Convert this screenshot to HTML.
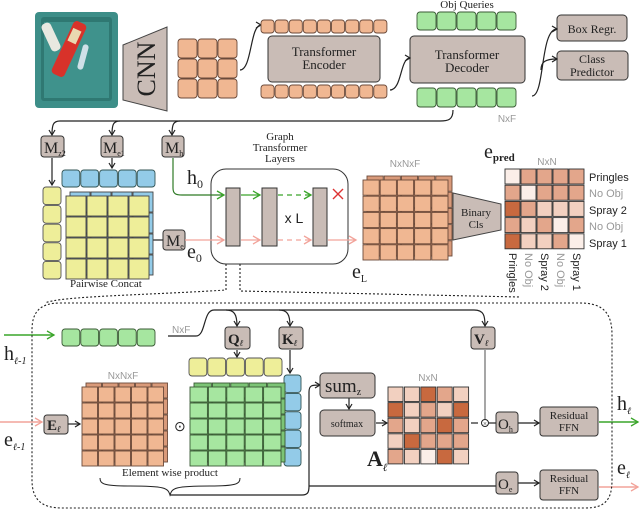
<!DOCTYPE html>
<html><head><meta charset="utf-8"><style>
html,body{margin:0;padding:0;background:#fff;}
svg{display:block;}
text{font-family:"Liberation Serif",serif;fill:#222;}
.s{font-family:"Liberation Sans",sans-serif;}
</style></head><body>
<svg id="g" width="640" height="531" viewBox="0 0 640 531" xmlns="http://www.w3.org/2000/svg">
<defs>
<marker id="ab" markerWidth="8" markerHeight="8" refX="6" refY="4" orient="auto" markerUnits="userSpaceOnUse"><path d="M1,1 L6,4 L1,7" fill="none" stroke="#222" stroke-width="1.2"/></marker>
<marker id="ag" markerWidth="10" markerHeight="10" refX="8" refY="5" orient="auto" markerUnits="userSpaceOnUse"><path d="M1,1 L8,5 L1,9" fill="none" stroke="#3aa52a" stroke-width="1.3"/></marker>
<marker id="ap" markerWidth="10" markerHeight="10" refX="8" refY="5" orient="auto" markerUnits="userSpaceOnUse"><path d="M1,1 L8,5 L1,9" fill="none" stroke="#f2a39a" stroke-width="1.3"/></marker>
</defs>
<!-- tray -->
<rect x="35" y="12" width="83" height="96" rx="4" fill="#3d8e88"/>
<rect x="41" y="17" width="71" height="84" rx="3" fill="#2f7872"/>
<rect x="44" y="22" width="65" height="76" fill="#3f928c"/>
<rect x="46" y="22" width="10" height="30" rx="4" fill="#e8e8e0" transform="rotate(-25 51 37)"/>
<rect x="62" y="20" width="14" height="58" rx="4" fill="#d8322a" transform="rotate(25 69 49)"/>
<rect x="64" y="28" width="9" height="14" fill="#e9d9b0" transform="rotate(25 69 49)"/>
<rect x="80" y="44" width="6" height="26" rx="3" fill="#cfe0e8" transform="rotate(15 83 57)"/>
<!-- CNN -->
<polygon points="123,45 167,27 167,111 123,100" fill="#c9bcb6" stroke="#444" stroke-width="1"/>
<text x="0" y="0" font-size="26" transform="translate(155,69) rotate(-90)" text-anchor="middle">CNN</text>
<!-- encoder / decoder -->
<rect x="268" y="36" width="112" height="46" rx="4" fill="#c9bcb6" stroke="#333"/>
<text x="324" y="56" font-size="13" text-anchor="middle">Transformer</text>
<text x="324" y="69" font-size="13" text-anchor="middle">Encoder</text>
<rect x="410" y="36" width="115" height="47" rx="4" fill="#c9bcb6" stroke="#333"/>
<text x="467" y="59" font-size="13" text-anchor="middle">Transformer</text>
<text x="467" y="72" font-size="13" text-anchor="middle">Decoder</text>
<text x="467" y="8" font-size="11" text-anchor="middle">Obj Queries</text>
<text x="507" y="122" font-size="10" class="s" fill="#999" text-anchor="middle" style="fill:#999">NxF</text>
<rect x="557" y="15" width="70" height="26" rx="4" fill="#c9bcb6" stroke="#333"/>
<text x="592" y="33" font-size="12" text-anchor="middle">Box Regr.</text>
<rect x="557" y="51" width="71" height="29" rx="4" fill="#c9bcb6" stroke="#333"/>
<text x="592" y="63" font-size="12" text-anchor="middle">Class</text>
<text x="592" y="76" font-size="12" text-anchor="middle">Predictor</text>
<g fill="none" stroke="#222" stroke-width="1.2">
<path d="M240,70 C252,70 250,25 261,25" marker-end="url(#ab)"/>
<path d="M390,90 C402,90 400,58 410,58" marker-end="url(#ab)"/>
<path d="M532,96 C545,96 540,29 557,29" marker-end="url(#ab)"/>
<path d="M541,70 C541,62 545,59 557,59" marker-end="url(#ab)"/>
<path d="M453,110 C453,120 448,121 440,121 L60,121 C53,121 52,125 52,135" marker-end="url(#ab)"/>
<path d="M120,121 C113,121 112,125 112,135" marker-end="url(#ab)"/>
<path d="M180,121 C173,121 172,125 172,135" marker-end="url(#ab)"/>
<path d="M52,158 L52,185" marker-end="url(#ab)"/>
<path d="M112,158 L112,168" marker-end="url(#ab)"/>
<path d="M152,240 L163,240"/>
<path d="M309,486 L496,486"/>
<path d="M349,398 L349,409" marker-end="url(#ab)"/>
<path d="M376,423 L387,423" marker-end="url(#ab)"/>
<path d="M68,424 L80,424" marker-end="url(#ab)"/>
<path d="M237,350 L237,357" marker-end="url(#ab)"/>
<path d="M290,350 L290,373" marker-end="url(#ab)"/>
<path d="M168,336 L196,336 C206,336 203,310 214,310 L474,310 C484,310 485,316 485,326" marker-end="url(#ab)"/>
<path d="M226,310 C234,310 237,314 237,326" marker-end="url(#ab)"/>
<path d="M279,310 C287,310 290,314 290,326" marker-end="url(#ab)"/>
<path d="M485,350 L485,419" stroke-width="0.8"/>
<path d="M471,423 L478,423"/>
<path d="M489,423 L496,423"/>
<path d="M518,423 L539,423" marker-end="url(#ab)"/>
<path d="M518,483 L539,483" marker-end="url(#ab)"/>
<path d="M170,495 L302,495 C308,495 309,492 309,486 L309,392 C309,385 312,385 320,385" marker-end="url(#ab)"/>
<path d="M100,478 C100,484 104,486 130,486 C165,486 168,488 170,495 C172,488 175,486 210,486 C236,486 240,484 240,478" stroke-width="1"/>
</g>
<circle cx="485" cy="423" r="3.5" fill="#fff" stroke="#222"/>
<text x="485" y="426" font-size="7" text-anchor="middle">×</text>
<!-- M boxes -->
<g fill="#c9bcb6" stroke="#333">
<rect x="41" y="136" width="23" height="21" rx="3"/><rect x="101" y="136" width="22" height="21" rx="3"/><rect x="162" y="136" width="22" height="21" rx="3"/>
<rect x="163" y="230" width="22" height="20" rx="3"/>
<rect x="225" y="327" width="25" height="22" rx="3"/><rect x="279" y="327" width="24" height="22" rx="3"/><rect x="471" y="327" width="24" height="22" rx="3"/>
<rect x="44" y="415" width="24" height="19" rx="3"/>
<rect x="320" y="373" width="55" height="25" rx="4"/><rect x="320" y="410" width="55" height="26" rx="4"/>
<rect x="496" y="412" width="22" height="21" rx="3"/><rect x="496" y="472" width="22" height="22" rx="3"/>
<rect x="540" y="407" width="58" height="29" rx="3"/><rect x="540" y="470" width="58" height="30" rx="3"/>
</g>
<text x="44" y="153" font-size="16">M<tspan font-size="8" dy="3">z2</tspan></text>
<text x="103" y="153" font-size="16">M<tspan font-size="8" dy="3">e1</tspan></text>
<text x="165" y="153" font-size="16">M<tspan font-size="8" dy="3">h</tspan></text>
<text x="166" y="246" font-size="16">M<tspan font-size="8" dy="3">e</tspan></text>
<text x="228" y="344" font-size="15" font-weight="bold">Q<tspan font-size="9" font-style="italic" dy="2">ℓ</tspan></text>
<text x="282" y="344" font-size="15" font-weight="bold">K<tspan font-size="9" font-style="italic" dy="2">ℓ</tspan></text>
<text x="474" y="344" font-size="15" font-weight="bold">V<tspan font-size="9" font-style="italic" dy="2">ℓ</tspan></text>
<text x="47" y="430" font-size="15" font-weight="bold">E<tspan font-size="9" font-style="italic" dy="2">ℓ</tspan></text>
<text x="325" y="392" font-size="19">sum<tspan font-size="10" dy="3">z</tspan></text>
<text x="347" y="427" font-size="10" text-anchor="middle">softmax</text>
<text x="498" y="429" font-size="15">O<tspan font-size="8" dy="3">h</tspan></text>
<text x="498" y="489" font-size="15">O<tspan font-size="8" dy="3">e</tspan></text>
<text x="569" y="419" font-size="11" text-anchor="middle">Residual</text>
<text x="569" y="431" font-size="11" text-anchor="middle">FFN</text>
<text x="569" y="482" font-size="11" text-anchor="middle">Residual</text>
<text x="569" y="494" font-size="11" text-anchor="middle">FFN</text>
<!-- graph transformer -->
<text x="280" y="140" font-size="11" text-anchor="middle">Graph</text>
<text x="280" y="151" font-size="11" text-anchor="middle">Transformer</text>
<text x="280" y="162" font-size="11" text-anchor="middle">Layers</text>
<rect x="211" y="169" width="137" height="95" rx="15" fill="none" stroke="#333"/>
<g fill="#c9bcb6" stroke="#333"><rect x="226" y="188" width="14" height="58"/><rect x="262" y="188" width="15" height="58"/><rect x="313" y="188" width="14" height="58"/></g>
<text x="294" y="223" font-size="14" class="s" text-anchor="middle">x L</text>
<path d="M333,189 L343,199 M343,189 L333,199" stroke="#d33" stroke-width="1.4"/>
<g fill="none" stroke-width="1.2">
<path d="M173,158 L173,188 C173,194 176,195 182,195 L224,195" stroke="#2e7a25" marker-end="url(#ag)"/>
<path d="M241,195 L260,195" stroke="#3aa52a" marker-end="url(#ag)"/>
<path d="M278,195 L311,195" stroke="#3aa52a" stroke-dasharray="5,4" marker-end="url(#ag)"/>
<path d="M185,240 L224,240" stroke="#f2a39a" marker-end="url(#ap)"/>
<path d="M241,240 L260,240" stroke="#f2a39a" marker-end="url(#ap)"/>
<path d="M278,240 L311,240" stroke="#f2a39a" stroke-dasharray="5,4" marker-end="url(#ap)"/>
<path d="M328,240 L356,240" stroke="#f2a39a" marker-end="url(#ap)"/>
<path d="M4,335 L54,335" stroke="#3aa52a" stroke-width="1.6" marker-end="url(#ag)"/>
<path d="M0,422 L42,422" stroke="#f2a39a" stroke-width="1.6" marker-end="url(#ap)"/>
<path d="M599,422 L638,422" stroke="#3aa52a" stroke-width="1.6" marker-end="url(#ag)"/>
<path d="M599,487 L638,487" stroke="#f2a39a" stroke-width="1.6" marker-end="url(#ap)"/>
</g>
<text x="187" y="184" font-size="20">h<tspan font-size="12" dy="4">0</tspan></text>
<text x="187" y="258" font-size="20">e<tspan font-size="12" dy="4">0</tspan></text>
<text x="352" y="278" font-size="20">e<tspan font-size="10" dy="4">L</tspan></text>
<text x="405" y="167" font-size="10" class="s" text-anchor="middle" style="fill:#999">NxNxF</text>
<text x="70" y="287" font-size="11">Pairwise Concat</text>
<!-- binary cls -->
<polygon points="453,193 501,204 501,230 453,240" fill="#c9bcb6" stroke="#444"/>
<text x="476" y="216" font-size="11" text-anchor="middle">Binary</text>
<text x="476" y="228" font-size="11" text-anchor="middle">Cls</text>
<text x="484" y="158" font-size="20">e<tspan font-size="11" font-weight="bold" dy="3">pred</tspan></text>
<text x="547" y="165" font-size="10" class="s" text-anchor="middle" style="fill:#999">NxN</text>
<g class="s" font-size="11">
<text x="589" y="181" class="s">Pringles</text>
<text x="589" y="197" class="s" style="fill:#999">No Obj</text>
<text x="589" y="214" class="s">Spray 2</text>
<text x="589" y="230" class="s" style="fill:#999">No Obj</text>
<text x="589" y="247" class="s">Spray 1</text>
<text class="s" transform="translate(509,253) rotate(90)">Pringles</text>
<text class="s" style="fill:#999" transform="translate(525,253) rotate(90)">No Obj</text>
<text class="s" transform="translate(541,253) rotate(90)">Spray 2</text>
<text class="s" style="fill:#999" transform="translate(557,253) rotate(90)">No Obj</text>
<text class="s" transform="translate(573,253) rotate(90)">Spray 1</text>
</g>
<!-- dotted -->
<g fill="none" stroke="#222" stroke-width="1.1" stroke-dasharray="2,2">
<path d="M226,264 L226,290 C150,295 60,296 45,303"/>
<path d="M240,264 L240,291 L520,297"/>
<path d="M60,303 L580,303 C605,303 612,315 612,335 L612,480 C612,500 605,508 585,508 L62,508 C42,508 32,500 32,480 L32,330 C32,312 40,303 60,303"/>
</g>
<rect x="0" y="300" width="0" height="0"/>
<text x="4" y="360" font-size="20">h<tspan font-size="10" font-style="italic" dy="4">ℓ-1</tspan></text>
<text x="4" y="446" font-size="20">e<tspan font-size="10" font-style="italic" dy="4">ℓ-1</tspan></text>
<text x="617" y="410" font-size="20">h<tspan font-size="10" font-style="italic" dy="4">ℓ</tspan></text>
<text x="617" y="474" font-size="20">e<tspan font-size="10" font-style="italic" dy="4">ℓ</tspan></text>
<text x="172" y="333" font-size="10" class="s" style="fill:#999">NxF</text>
<text x="123" y="379" font-size="10" class="s" text-anchor="middle" style="fill:#999">NxNxF</text>
<text x="428" y="381" font-size="10" class="s" text-anchor="middle" style="fill:#999">NxN</text>
<text x="174" y="431" font-size="14">⊙</text>
<text x="367" y="466" font-size="22" font-weight="bold">A<tspan font-size="11" font-style="italic" dy="5">ℓ</tspan></text>
<text x="170" y="476" font-size="11" text-anchor="middle">Element wise product</text>
<g id="dyn"></g>
</svg>
<script>
var NS="http://www.w3.org/2000/svg",D=document.getElementById("dyn");
function R(x,y,w,h,f,s,rx){var r=document.createElementNS(NS,"rect");r.setAttribute("x",x);r.setAttribute("y",y);r.setAttribute("width",w);r.setAttribute("height",h);r.setAttribute("fill",f);r.setAttribute("stroke",s);r.setAttribute("stroke-width",0.9);if(rx)r.setAttribute("rx",rx);D.appendChild(r);}
function row(x,y,n,w,h,f,s){for(var i=0;i<n;i++)R(x+i*w,y,w-1,h,f,s,3);}
function col(x,y,n,w,h,f,s){for(var i=0;i<n;i++)R(x,y+i*h,w,h-1,f,s,3);}
function cube(x,y,c,r,w,h,d,f,b,s){var i,j;for(j=0;j<r;j++)for(i=0;i<c;i++)R(x+i*w+d,y+j*h,w-1,h-1,b,s);for(j=0;j<r;j++)for(i=0;i<c;i++)R(x+i*w,y+d+j*h,w-1,h-1,f,s);}
var O="#f0b792",OS="#6b4a3a",G="#a6e6a0",GS="#3a5a35";
for(var j=0;j<3;j++)row(178,39+j*20,3,20,19,O,OS);
row(261,20,9,14.1,13,O,OS);row(261,85,9,14.1,13,O,OS);
row(417,12,5,20,18,G,GS);row(417,88,5,20,19,G,GS);
row(62,170,5,18.8,17,"#93cbe8","#355");
col(43,187,5,18,18.6,"#eeee99","#555");
cube(66,192,4,4,21,21,4,"#eeee99","#93cbe8","#444");
cube(363,176,5,5,17.2,16.2,4,O,"#d99a7a",OS);
row(62,329,5,18.8,17,G,GS);
row(189,358,5,18.8,18,"#eeee99","#555");
col(284,375,5,17,18.4,"#93cbe8","#355");
cube(82,383,5,5,16.5,16,4,O,"#d99a7a",OS);
cube(190,383,5,5,18.4,16,4,G,"#7cc476",GS);
var C={d:"#c8693f",m:"#e3a68b",l:"#f2d0c0",w:"#fbeee8"};
var E=["wmmmm","mwmmm","dmlll","mlmwm","dllmw"];
for(var a=0;a<5;a++)for(var b=0;b<5;b++)R(505+b*16,169+a*16.2,15,15,C[E[a][b]],"#333");
var A=["lldml","dlmld","mlmdm","ldmmm","mlwdl"];
for(var a=0;a<5;a++)for(var b=0;b<5;b++)R(388+b*16.4,387+a*15.6,15,14.5,C[A[a][b]],"#333");
</script>
</body></html>
